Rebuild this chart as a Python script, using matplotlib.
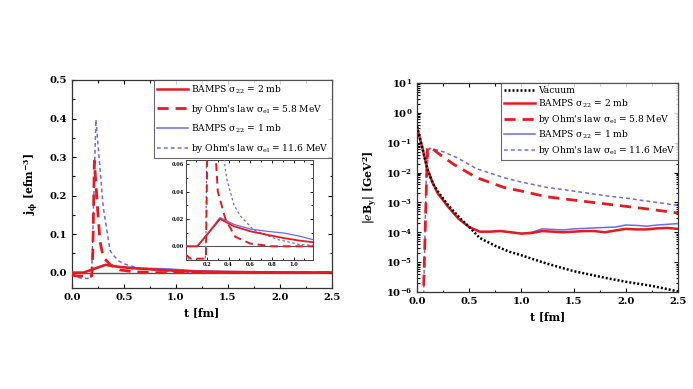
import numpy as np
import matplotlib
matplotlib.use("Agg")
import matplotlib.pyplot as plt
from matplotlib.ticker import MultipleLocator, LogLocator, FuncFormatter, NullFormatter

plt.rcParams['font.family'] = ['DejaVu Serif']
plt.rcParams['mathtext.fontset'] = 'dejavuserif'

# ---------------- left panel data: j_phi vs t ----------------
t_b2 = [0.0, 0.11, 0.2, 0.29, 0.32, 0.45, 0.6, 0.75, 0.91, 1.06, 1.18, 1.5, 2.0, 2.5]
j_b2 = [0.0, 0.0, 0.0085, 0.017, 0.020, 0.0146, 0.011, 0.0085, 0.006, 0.0041, 0.003, 0.0015, 0.0006, 0.0002]

t_b1 = [0.0, 0.11, 0.2, 0.29, 0.32, 0.45, 0.6, 0.75, 0.91, 1.06, 1.18, 1.5, 2.0, 2.5]
j_b1 = [0.0, 0.0, 0.0085, 0.018, 0.021, 0.016, 0.0126, 0.011, 0.0097, 0.0073, 0.0049, 0.003, 0.0015, 0.0008]

t_o58 = [0.0, 0.05, 0.19, 0.2, 0.215, 0.25, 0.27, 0.3, 0.37, 0.46, 0.6, 0.8, 1.2, 2.5]
j_o58 = [-0.006, -0.009, -0.009, 0.05, 0.29, 0.15, 0.08, 0.04, 0.02, 0.007, 0.002, 0.0, 0.0, 0.0]

t_o116 = [0.0, 0.05, 0.1, 0.18, 0.19, 0.21, 0.23, 0.26, 0.3, 0.365, 0.385, 0.45, 0.51, 0.63, 0.85, 1.06, 1.3, 2.5]
j_o116 = [-0.005, -0.012, -0.015, -0.015, 0.0, 0.2, 0.397, 0.3, 0.17, 0.059, 0.0486, 0.03, 0.022, 0.012, 0.005, 0.0012, 0.0003, 0.0]

# ---------------- right panel data: |eB_y| vs t ----------------
t_vac = [0.0, 0.05, 0.1, 0.15, 0.2, 0.3, 0.4, 0.5, 0.6, 0.75, 0.89, 1.0, 1.24, 1.5, 1.82, 2.0, 2.25, 2.5]
b_vac = [0.35, 0.07, 0.013, 4.5e-3, 2.3e-3, 8e-4, 3.3e-4, 1.5e-4, 6.5e-5, 3.5e-5, 2.2e-5, 1.7e-5,
         9e-6, 5e-6, 2.9e-6, 2.2e-6, 1.6e-6, 1.05e-6]

t_bb = [0.0, 0.05, 0.1, 0.15, 0.2, 0.3, 0.4, 0.5, 0.6, 0.7, 0.8, 0.9, 1.0, 1.1, 1.2, 1.3, 1.4, 1.5,
        1.6, 1.7, 1.8, 1.9, 2.0, 2.1, 2.2, 2.3, 2.4, 2.5]
b_b2 = [0.32, 0.07, 0.013, 4.5e-3, 2.0e-3, 7e-4, 2.8e-4, 1.5e-4, 1.05e-4, 1.05e-4, 1.1e-4, 1.0e-4,
        9e-5, 9.5e-5, 1.1e-4, 1.05e-4, 1.0e-4, 1.05e-4, 1.1e-4, 1.1e-4, 1.0e-4, 1.15e-4, 1.3e-4,
        1.25e-4, 1.25e-4, 1.35e-4, 1.4e-4, 1.3e-4]
b_b1 = [0.32, 0.07, 0.013, 4.5e-3, 2.0e-3, 7e-4, 2.8e-4, 1.5e-4, 1.05e-4, 1.05e-4, 1.1e-4, 1.0e-4,
        9.2e-5, 1.0e-4, 1.3e-4, 1.25e-4, 1.2e-4, 1.3e-4, 1.35e-4, 1.4e-4, 1.45e-4, 1.5e-4, 1.75e-4,
        1.7e-4, 1.6e-4, 1.75e-4, 1.85e-4, 1.95e-4]

t_r58 = [0.055, 0.1, 0.13, 0.2, 0.35, 0.57, 0.83, 1.0, 1.24, 1.5, 1.82, 2.0, 2.25, 2.5]
b_r58 = [1e-7, 0.068, 0.07, 0.045, 0.019, 6.8e-3, 3.2e-3, 2.4e-3, 1.55e-3, 1.2e-3, 8.8e-4, 7.4e-4, 5.8e-4, 4.4e-4]

t_r116 = [0.058, 0.09, 0.12, 0.2, 0.25, 0.38, 0.57, 0.83, 1.0, 1.24, 1.5, 1.82, 2.0, 2.25, 2.5]
b_r116 = [1e-7, 0.012, 0.065, 0.056, 0.05, 0.032, 0.0135, 6.8e-3, 4.8e-3, 3.2e-3, 2.4e-3, 1.65e-3,
          1.4e-3, 1.05e-3, 8e-4]

RED = '#e8191f'
BLUE = '#6a6af2'

lab_b2 = r'BAMPS σ$_{22}$ = 2 mb'
lab_o58 = r"by Ohm's law σ$_{\mathrm{el}}$ = 5.8 MeV"
lab_b1 = r'BAMPS σ$_{22}$ = 1 mb'
lab_o116 = r"by Ohm's law σ$_{\mathrm{el}}$ = 11.6 MeV"

W, H = 693, 389
fig = plt.figure(figsize=(W / 100, H / 100), dpi=100)
fig.patch.set_facecolor('white')

TFS = 7.2


def style_axes(ax, fs=TFS):
    ax.tick_params(which='both', direction='in', top=True, right=True, labelsize=fs, width=0.8)
    ax.tick_params(which='major', length=3)
    ax.tick_params(which='minor', length=1.8)
    for lab in ax.get_xticklabels() + ax.get_yticklabels():
        lab.set_fontweight('bold')
    for s in ax.spines.values():
        s.set_linewidth(0.9)
        s.set_color('#333333')


# ---------------- left axes ----------------
axL = fig.add_axes([72 / W, 1 - 288 / H, 260 / W, 208 / H])
axL.axhline(0, color='#555555', lw=1.0, zorder=1)
axL.plot(t_o116, j_o116, color=BLUE, lw=1.1, ls=(0, (2.5, 2)), label=lab_o116, zorder=3)
axL.plot(t_b1, j_b1, color=BLUE, lw=1.1, label=lab_b1, zorder=4)
axL.plot(t_o58, j_o58, color=RED, lw=2.0, ls=(0, (4, 2.5)), label=lab_o58, zorder=3)
axL.plot(t_b2, j_b2, color=RED, lw=1.8, label=lab_b2, zorder=4)
axL.set_xlim(0, 2.5)
axL.set_ylim(-0.04, 0.5)
axL.xaxis.set_major_locator(MultipleLocator(0.5))
axL.xaxis.set_minor_locator(MultipleLocator(0.25))
axL.yaxis.set_major_locator(MultipleLocator(0.1))
axL.yaxis.set_minor_locator(MultipleLocator(0.05))
axL.xaxis.set_major_formatter(FuncFormatter(lambda v, p: f'{v:.1f}'))
axL.yaxis.set_major_formatter(FuncFormatter(lambda v, p: f'{v:.1f}'))
style_axes(axL)
axL.set_xlabel('t [fm]', fontsize=7.8, fontweight='bold', labelpad=4)
axL.set_ylabel(r'$\mathbf{j_{\phi}}$ [efm$^{\mathbf{-3}}$]', fontsize=7.8, fontweight='bold', labelpad=6)
h, l = axL.get_legend_handles_labels()
order = [3, 2, 1, 0]
legL = axL.legend([h[i] for i in order], [l[i] for i in order], loc='upper right',
                  fontsize=6.6, frameon=True, fancybox=False, edgecolor='#444444',
                  handlelength=3.4, handletextpad=0.3, labelspacing=0.75, borderpad=0.35,
                  borderaxespad=0.0)
legL.get_frame().set_linewidth(0.8)

# ---------------- inset ----------------
axI = fig.add_axes([186 / W, 1 - 260 / H, 127 / W, 100 / H])
axI.axhline(0, color='#555555', lw=0.8, zorder=1)
axI.plot(t_o116, j_o116, color=BLUE, lw=0.9, ls=(0, (2, 2)), zorder=3)
axI.plot(t_b1, j_b1, color=BLUE, lw=0.9, zorder=4)
axI.plot(t_o58, j_o58, color=RED, lw=1.4, ls=(0, (4, 2.5)), zorder=3)
axI.plot(t_b2, j_b2, color=RED, lw=1.3, zorder=4)
axI.set_xlim(0.006, 1.18)
axI.set_ylim(-0.01, 0.063)
axI.xaxis.set_major_locator(MultipleLocator(0.2))
axI.xaxis.set_minor_locator(MultipleLocator(0.1))
axI.yaxis.set_major_locator(MultipleLocator(0.02))
axI.yaxis.set_minor_locator(MultipleLocator(0.01))
axI.xaxis.set_major_formatter(FuncFormatter(lambda v, p: f'{v:.1f}'))
axI.yaxis.set_major_formatter(FuncFormatter(lambda v, p: f'{v:.2f}'))
axI.tick_params(which='both', direction='in', top=True, right=True, labelsize=3.6, width=0.6, pad=1.5)
axI.tick_params(which='major', length=2)
axI.tick_params(which='minor', length=1.2)
for lab in axI.get_xticklabels() + axI.get_yticklabels():
    lab.set_fontweight('bold')
for s in axI.spines.values():
    s.set_linewidth(0.7)
    s.set_color('#444444')

# ---------------- right axes ----------------
axR = fig.add_axes([417 / W, 1 - 292 / H, 261 / W, 209 / H])
axR.plot(t_vac, b_vac, color='black', lw=1.8, ls=(0, (0.8, 0.8)), label='Vacuum', zorder=5)
axR.plot(t_r116, b_r116, color=BLUE, lw=1.1, ls=(0, (2.5, 2)), label=lab_o116, zorder=3)
axR.plot(t_bb, b_b1, color=BLUE, lw=1.1, label=lab_b1, zorder=4)
axR.plot(t_r58, b_r58, color=RED, lw=2.0, ls=(0, (4, 2.5)), label=lab_o58, zorder=3)
axR.plot(t_bb, b_b2, color=RED, lw=1.8, label=lab_b2, zorder=4)
axR.set_yscale('log')
axR.set_xlim(0, 2.5)
axR.set_ylim(1e-6, 10)
axR.xaxis.set_major_locator(MultipleLocator(0.5))
axR.xaxis.set_minor_locator(MultipleLocator(0.25))
axR.xaxis.set_major_formatter(FuncFormatter(lambda v, p: f'{v:.1f}'))
axR.yaxis.set_major_locator(LogLocator(base=10, numticks=12))
axR.yaxis.set_minor_locator(LogLocator(base=10, subs=np.arange(2, 10), numticks=12))
axR.yaxis.set_minor_formatter(NullFormatter())
axR.yaxis.set_major_formatter(FuncFormatter(lambda v, p: r'$\mathbf{10^{%d}}$' % int(round(np.log10(v)))))
style_axes(axR)
axR.set_xlabel('t [fm]', fontsize=7.8, fontweight='bold', labelpad=4)
axR.set_ylabel(r'|$\mathbf{\mathit{e}}$B$_{\mathbf{y}}$| [GeV$^{\mathbf{2}}$]', fontsize=7.8,
               fontweight='bold', labelpad=4)
h, l = axR.get_legend_handles_labels()
order = [0, 4, 3, 2, 1]
legR = axR.legend([h[i] for i in order], [l[i] for i in order], loc='upper right',
                  fontsize=6.6, frameon=True, fancybox=False, edgecolor='#444444',
                  handlelength=3.4, handletextpad=0.3, labelspacing=0.3, borderpad=0.3,
                  borderaxespad=0.0)
legR.get_frame().set_linewidth(0.8)

fig.savefig('out.png', dpi=100, facecolor='white')
